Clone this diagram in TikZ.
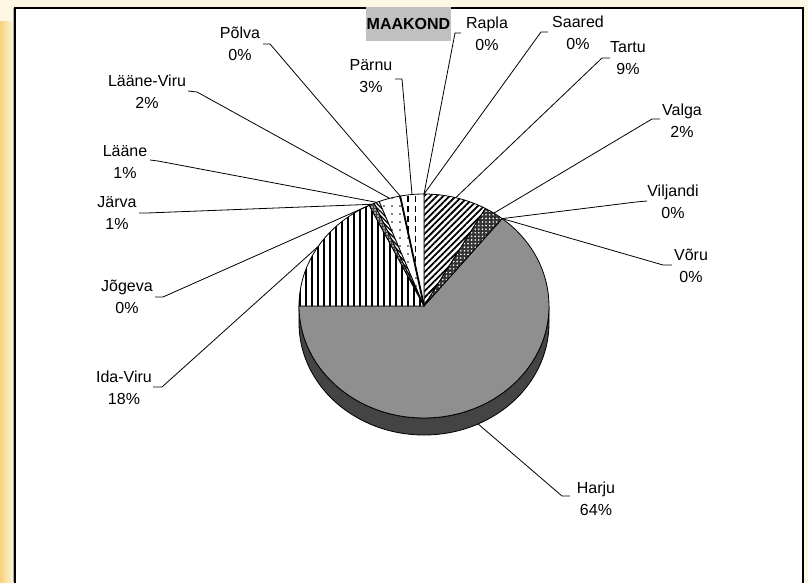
\documentclass[tikz,border=0pt]{standalone}
\usepackage{fontspec}
\setmainfont{Liberation Sans}
\usetikzlibrary{patterns.meta,calc}
\definecolor{harju}{HTML}{8A8A8A}
\definecolor{harjuside}{HTML}{404040}
\definecolor{boxgray}{HTML}{C0C0C0}
\definecolor{bgcream}{HTML}{FEF7E3}
\definecolor{bgorange}{HTML}{F8D27A}
\begin{document}
\begin{tikzpicture}[x=1pt,y=1pt,
  lbl/.style={align=center,font=\fontsize{16}{22}\selectfont,inner sep=0pt},
  leader/.style={draw=black,line width=0.8pt},
  sl/.style={draw=black,line width=0.8pt,line join=round},
  er/.style={x radius=125pt,y radius=112pt}]
\useasboundingbox (0,0) rectangle (808,582);
\fill[bgcream] (0,0) rectangle (808,582);
\shade[left color=bgorange,right color=bgcream] (0,0) rectangle (14,560);
\fill[white] (14.8,0) rectangle (803.2,574.2);
\draw[black!35,line width=1pt] (13.2,0) -- (13.2,574);
\draw[black,line width=1.6pt] (14.8,-5) -- (14.8,574.2) -- (803.2,574.2) -- (803.2,-5);

\coordinate (C) at (424,276);
% side of the pie
\draw[sl,preaction={fill=harjuside},pattern={Dots[distance=2pt,radius=0.45pt]},pattern color=black!55] (299,276) -- (299,259) arc[er,start angle=180,end angle=360] -- (549,276) arc[er,start angle=0,end angle=-180] -- cycle;
% slices
\draw[sl,preaction={fill=harju},pattern={Dots[distance=2pt,radius=0.45pt]},pattern color=black!20] (C) -- +(51.3:125pt and 112pt) arc[er,start angle=51.3,end angle=-180] -- cycle;
\draw[sl,preaction={fill=white},pattern={Lines[angle=45,distance=4.5pt,line width=1.8pt]}] (C) -- +(90:125pt and 112pt) arc[er,start angle=90,end angle=60.6] -- cycle;
\draw[sl,preaction={fill=black!80},pattern={Dots[distance=3.6pt,radius=0.9pt]},pattern color=white] (C) -- +(60.6:125pt and 112pt) arc[er,start angle=60.6,end angle=51.3] -- cycle;
\draw[sl,preaction={fill=white},pattern={Lines[angle=90,distance=6pt,line width=1.1pt]}] (C) -- +(180:125pt and 112pt) arc[er,start angle=180,end angle=116] -- cycle;
\draw[sl,preaction={fill=black!75},pattern={Dots[distance=3pt,radius=0.8pt]},pattern color=white] (C) -- +(116:125pt and 112pt) arc[er,start angle=116,end angle=113.5] -- cycle;
\draw[sl,preaction={fill=white},pattern={Lines[angle=-45,distance=3pt,line width=1.2pt]}] (C) -- +(113.5:125pt and 112pt) arc[er,start angle=113.5,end angle=111] -- cycle;
\draw[sl,preaction={fill=white},pattern={Dots[distance=8pt,radius=0.9pt]}] (C) -- +(111:125pt and 112pt) arc[er,start angle=111,end angle=101] -- cycle;
\begin{scope}
\clip (C) -- +(101:125pt and 112pt) arc[er,start angle=101,end angle=90] -- cycle;
\fill[white] (390,270) rectangle (430,400);
\draw[line width=1.2pt,dash pattern=on 6pt off 4pt] (408,270) -- (408,400);
\draw[line width=1.2pt,dash pattern=on 6pt off 4pt] (415.5,270) -- (415.5,400);
\end{scope}
\draw[sl] (C) -- +(101:125pt and 112pt) arc[er,start angle=101,end angle=90] -- cycle;
\draw[line width=1.8pt] (C) -- +(101:125pt and 112pt);

% pie end points of leaders
\coordinate (ePolva) at ($(C)+(101:125pt and 112pt)$);
\coordinate (eParnu) at ($(C)+(95.5:125pt and 112pt)$);
\coordinate (eRapla) at ($(C)+(90:125pt and 112pt)$);
\coordinate (eSaared) at ($(C)+(90:125pt and 112pt)$);
\coordinate (eTartu) at ($(C)+(75.3:125pt and 112pt)$);
\coordinate (eValga) at ($(C)+(56:125pt and 112pt)$);
\coordinate (eViljandi) at ($(C)+(51.3:125pt and 112pt)$);
\coordinate (eVoru) at ($(C)+(51.3:125pt and 112pt)$);
\coordinate (eHarju) at ($(C)+(0,-17)+(-64.35:125pt and 112pt)$);
\coordinate (eIda) at ($(C)+(148:125pt and 112pt)$);
\coordinate (eJogeva) at ($(C)+(116:125pt and 112pt)$);
\coordinate (eJarva) at ($(C)+(114.75:125pt and 112pt)$);
\coordinate (eLaane) at ($(C)+(112.25:125pt and 112pt)$);
\coordinate (eLV) at ($(C)+(106:125pt and 112pt)$);

% tick coordinates
\coordinate (tPolva) at (263,538); \coordinate (kPolva) at (270,538);
\coordinate (tParnu) at (395,503); \coordinate (kParnu) at (402,503);
\coordinate (tRapla) at (461,549); \coordinate (kRapla) at (455,549);
\coordinate (tSaared) at (548,550); \coordinate (kSaared) at (541,550);
\coordinate (tTartu) at (610,524); \coordinate (kTartu) at (602,524);
\coordinate (tValga) at (660,463); \coordinate (kValga) at (652,463);
\coordinate (tViljandi) at (647,381); \coordinate (kViljandi) at (636,380);
\coordinate (tVoru) at (672,317); \coordinate (kVoru) at (663,317);
\coordinate (tHarju) at (570,86); \coordinate (kHarju) at (562,86);
\coordinate (tIda) at (153,195); \coordinate (kIda) at (162,195);
\coordinate (tJogeva) at (155,285); \coordinate (kJogeva) at (163,285);
\coordinate (tJarva) at (139,369); \coordinate (kJarva) at (147,369);
\coordinate (tLaane) at (150,422); \coordinate (kLaane) at (158,421);
\coordinate (tLV) at (188,491); \coordinate (kLV) at (197,490);

\foreach \n in {Polva,Parnu,Rapla,Saared,Tartu,Valga,Viljandi,Voru,Harju,Ida,Jogeva,Jarva,Laane,LV}
  \draw[leader] (t\n) -- (k\n) -- (e\n);

% labels
\node[lbl] (lPolva) at (240,538) {Põlva\\0\%};
\node[lbl] (lParnu) at (371,506) {Pärnu\\3\%};
\node[lbl] (lRapla) at (487,548) {Rapla\\0\%};
\node[lbl] (lSaared) at (578,549) {Saared\\0\%};
\node[lbl] (lTartu) at (628,524) {Tartu\\9\%};
\node[lbl] (lValga) at (682,461) {Valga\\2\%};
\node[lbl] (lViljandi) at (673,380) {Viljandi\\0\%};
\node[lbl] (lVoru) at (691,316) {Võru\\0\%};
\node[lbl] (lHarju) at (596,83) {Harju\\64\%};
\node[lbl] (lIda) at (124,194) {Ida-Viru\\18\%};
\node[lbl] (lJogeva) at (127,285) {Jõgeva\\0\%};
\node[lbl] (lJarva) at (117,369) {Järva\\1\%};
\node[lbl] (lLaane) at (125,420) {Lääne\\1\%};
\node[lbl] (lLV) at (147,490) {Lääne-Viru\\2\%};

\node[fill=boxgray,minimum width=85pt,minimum height=34pt,inner sep=0pt,font=\fontsize{16}{19}\selectfont\bfseries] (title) at (408.5,558) {MAAKOND};
\end{tikzpicture}
\end{document}
